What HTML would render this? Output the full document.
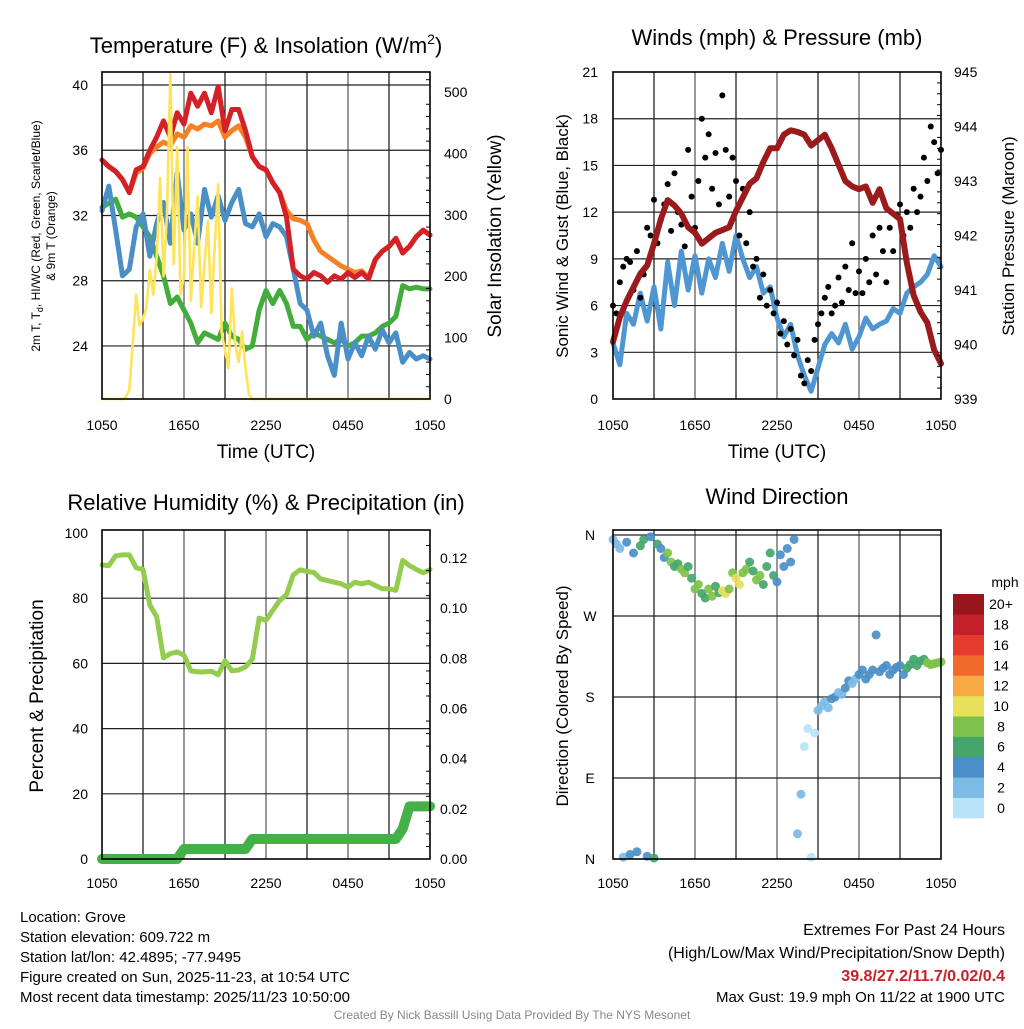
<!DOCTYPE html>
<html><head><meta charset="utf-8">
<style>
html,body{margin:0;padding:0;background:#fff;}
body{width:1024px;height:1024px;overflow:hidden;font-family:"Liberation Sans",sans-serif;}
svg text{font-family:"Liberation Sans",sans-serif;}
</style></head>
<body>
<svg id="fig" width="1024" height="1024" viewBox="0 0 1024 1024" xmlns="http://www.w3.org/2000/svg">
</svg>
<script>
// ---------- data (half-hourly, 1050 UTC -> 1050 UTC) ----------
const xTickLabels = ["1050","1650","2250","0450","1050"];
const tempRed = [35.4,35.0,34.7,34.2,33.4,34.8,35.0,36.0,36.8,37.8,36.8,38.3,37.6,39.5,38.7,39.5,38.3,39.9,37.2,38.5,38.5,37.2,35.6,35.0,34.8,34.0,33.4,31.9,28.7,28.3,28.1,28.5,28.3,27.9,28.3,28.1,28.5,28.2,28.5,28.1,29.3,29.8,30.1,30.6,29.7,30.1,30.7,31.1,30.8];
const tempOrange = [35.4,35.0,34.7,34.2,33.4,34.6,34.9,35.8,36.2,36.5,36.3,37.0,36.8,37.5,37.3,37.6,37.5,37.8,36.8,37.2,37.5,36.8,35.6,35.0,34.8,34.0,33.4,32.3,31.8,31.7,31.5,30.5,29.8,29.5,29.2,28.9,28.7,28.5,28.6,28.2,29.3,29.8,30.1,30.6,29.7,30.1,30.7,31.1,30.8];
const tempBlue = [32.3,33.8,31.1,28.3,28.7,31.3,32.1,29.5,31.5,32.8,30.3,34.6,31.1,32.1,30.3,33.6,31.9,33.2,31.7,32.8,33.6,31.5,31.3,32.1,30.7,31.5,31.3,30.7,28.7,26.6,26.2,24.6,25.4,23.4,22.2,25.4,23.2,24.2,23.4,24.6,23.8,25.0,24.2,24.8,23.0,23.6,23.2,23.4,23.2];
const tempGreen = [32.5,32.75,33.0,31.9,32.1,31.9,31.3,30.7,29.5,28.3,26.6,27.0,26.2,25.4,24.2,24.8,24.6,24.4,25.4,24.6,24.4,23.8,24.0,26.2,27.4,26.6,27.4,26.6,25.2,25.2,24.4,24.8,24.6,24.4,24.2,24.4,24.0,24.2,24.6,24.6,24.8,25.2,25.4,25.8,27.7,27.5,27.6,27.5,27.5];
// solar insolation, 15-minute
const solar = [0,0,0,0,0,0,0,3,15,90,170,120,130,150,210,170,230,360,200,300,530,220,410,170,200,410,160,250,330,150,220,290,140,250,350,110,80,50,180,90,60,110,50,8,0,0,0,0,0,0,0,0,0,0,0,0,0,0,0,0,0,0,0,0,0,0,0,0,0,0,0,0,0,0,0,0,0,0,0,0,0,0,0,0,0,0,0,0,0,0,0,0,0,0,0,0,0];
const windSpeed = [3.6,2.2,5.5,4.8,6.8,5.0,7.2,4.5,8.8,6.0,9.5,7.0,9.2,6.8,9.0,7.8,10.0,8.2,10.5,9.0,7.8,8.5,6.8,7.2,5.2,4.0,4.8,2.8,1.5,0.5,2.0,3.5,4.2,3.6,4.8,3.2,4.0,5.2,4.5,4.8,5.0,5.8,5.5,6.8,7.2,7.5,8.0,9.2,8.5];
// gusts, 15-minute
const windGust = [6.0,5.5,7.5,8.5,9.0,8.8,7.0,9.5,6.5,8.0,11.0,10.5,12.8,10.0,11.5,12.5,13.8,10.8,14.5,12.0,11.2,9.8,16.0,13.0,11.0,14.0,18.0,15.5,17.0,13.5,15.8,12.5,19.5,16.0,13.0,15.5,14.0,10.5,13.5,10.0,12.0,8.5,9.0,6.5,8.0,6.0,7.0,5.5,6.2,4.2,5.0,3.5,4.5,2.8,3.8,1.5,1.0,2.5,1.8,3.8,4.8,5.5,6.5,7.2,5.5,6.0,7.8,6.2,8.5,7.0,10.0,6.8,8.2,6.8,9.0,7.5,10.5,8.0,11.0,9.5,7.5,11.0,9.5,11.8,12.5,10.5,12.0,11.0,13.5,12.0,13.0,15.5,14.0,17.5,16.5,14.5,16.0];
const pressure = [940.05,940.5,940.8,941.05,941.3,941.45,941.85,942.3,942.65,942.55,942.4,942.15,942.05,941.85,941.95,942.05,942.1,942.15,942.45,942.7,942.95,943.05,943.35,943.6,943.6,943.85,943.93,943.9,943.85,943.65,943.75,943.85,943.6,943.3,943.0,942.9,942.85,942.9,942.6,942.85,942.5,942.4,942.3,941.5,940.9,940.6,940.4,939.9,939.65];
const relHum = [90.2,90,93,93.3,93.3,89.3,88.8,77.9,74.3,61.7,63,63.5,62.5,57.7,57.4,57.4,57.6,56.5,60.8,57.7,58,58.9,61.3,73.9,73.2,76.3,79.3,81.1,87.2,88.7,88.2,87.9,85.9,85.4,84.9,84.4,83.4,84.9,84.4,84.9,83.9,82.9,82.9,82.4,91.6,90,88.8,87.8,88.8];
const precip = [0,0,0,0,0,0,0,0,0,0,0,0,0.004,0.004,0.004,0.004,0.004,0.004,0.004,0.004,0.004,0.004,0.008,0.008,0.008,0.008,0.008,0.008,0.008,0.008,0.008,0.008,0.008,0.008,0.008,0.008,0.008,0.008,0.008,0.008,0.008,0.008,0.008,0.008,0.012,0.021,0.021,0.021,0.021];
// wind direction, 15-minute (degrees); null = missing
const windDir = [355,350,345,2,352,5,340,8,348,355,3,358,1,350,345,335,340,330,325,328,322,318,325,312,300,305,295,290,300,292,303,296,298,295,300,318,312,305,318,322,330,320,310,315,305,325,340,315,308,338,325,345,330,355,28,72,125,145,2,140,165,170,175,168,178,180,185,183,190,198,195,200,205,210,200,205,210,249,208,212,215,205,210,213,215,205,212,216,222,215,220,222,218,216,217,218,219];
const cbLabels = ["0","2","4","6","8","10","12","14","16","18","20+"];
const cbColors = ["#b9e3f9","#7cbbe6","#4a8fc7","#45a56b","#7dc24a","#e8e05a","#f7a944","#f06a2c","#e33b2d","#c2202b","#98171d"];

// ---------- helpers ----------
const NS="http://www.w3.org/2000/svg";
const svg=document.getElementById('fig');
function mk(tag, attrs, parent){const e=document.createElementNS(NS,tag);for(const k in attrs)e.setAttribute(k,attrs[k]);(parent||svg).appendChild(e);return e;}
function txt(s,x,y,size,anchor,parent,extra){const e=mk('text',Object.assign({x:x,y:y,'font-size':size,'text-anchor':anchor||'middle',fill:'#000'},extra||{}),parent);e.textContent=s;return e;}
const P1={x:102,y:72,w:328,h:327}, P2={x:613,y:72,w:328,h:327}, P3={x:102,y:530,w:328,h:329}, P4={x:613,y:530,w:328,h:329};
function xh(P,h){return P.x+h*P.w/24;}
const y1L=t=>85+(40-t)*16.31, y1R=w=>399-w*0.614;
const y2L=m=>399-m*15.57, y2R=p=>399-(p-939)*54.5;
const y3L=r=>859-r*3.26, y3R=p=>859-p*2508;
const y4=d=>859-d*0.9;

function grid(P,yvals,name){
  const g=mk('g',{});
  
  
  for(let h=3;h<24;h+=3){mk('line',{x1:xh(P,h),x2:xh(P,h),y1:P.y,y2:P.y+P.h,stroke:(h%6==0)?'#555':'#111','stroke-width':1.2},g);}
  yvals.forEach(y=>mk('line',{x1:P.x,x2:P.x+P.w,y1:y,y2:y,stroke:'#222','stroke-width':1.2},g));
}
function frame(P,name){const r=mk('rect',{x:P.x,y:P.y,width:P.w,height:P.h,fill:'none',stroke:'#000','stroke-width':1.6});}
function line(P,vals,step,yf,color,width,name){
  let d='';vals.forEach((v,i)=>{if(v==null)return;d+=(d?'L':'M')+xh(P,i*step).toFixed(2)+','+yf(v).toFixed(2);});
  const p=mk('path',{d:d,fill:'none',stroke:color,'stroke-width':width,'stroke-linejoin':'round','stroke-linecap':'round'});
  
  
  return p;
}
function xlabels(P,y,name){
  const g=mk('g',{});
  
  
  xTickLabels.forEach((s,i)=>txt(s,xh(P,i*6),y,14,'middle',g));
}
function rightTicks(P,vals,yf){vals.forEach(v=>mk('line',{x1:P.x+P.w-4,x2:P.x+P.w,y1:yf(v),y2:yf(v),stroke:'#000','stroke-width':1}));}

// ---------- Panel 1 ----------
grid(P1,[24,28,32,36,40].map(y1L),'temperature');
line(P1,tempGreen,0.5,y1L,'#43ad3c',5,'dewpoint-line-green');
line(P1,tempBlue,0.5,y1L,'#4a8fc8',5,'heat-index-windchill-line-blue');
line(P1,tempOrange,0.5,y1L,'#f58026',5,'temperature-9m-line-orange');
line(P1,tempRed,0.5,y1L,'#d42027',5,'temperature-2m-line-red');
line(P1,solar,0.25,y1R,'#fde45a',2.6,'solar-insolation-line-yellow');
frame(P1,'temperature');
rightTicks(P1,[20,40,60,80,120,140,160,180,220,240,260,280,320,340,360,380,420,440,460,480,520],y1R);
{const g=mk('g',{});
[24,28,32,36,40].forEach(v=>txt(String(v),88,y1L(v)+5,14,'end',g));}
{const g=mk('g',{});
[0,100,200,300,400,500].forEach(v=>txt(String(v),444,y1R(v)+5,14,'start',g));}
xlabels(P1,430,'temperature');
txt('Time (UTC)',266,458,19,'middle');
{const t=txt('',266,53,22,'middle');t.innerHTML='Temperature (F) &amp; Insolation (W/m<tspan font-size="14" dy="-9">2</tspan><tspan dy="9">)</tspan>';}
{const t=mk('text',{transform:'translate(40,236) rotate(-90)','font-size':12,'text-anchor':'middle'});t.innerHTML='2m T, T<tspan font-size="9" dy="3">d</tspan><tspan dy="-3">, HI/WC (Red, Green, Scarlet/Blue)</tspan>';
const t2=mk('text',{transform:'translate(55,236) rotate(-90)','font-size':12,'text-anchor':'middle'});t2.textContent='& 9m T (Orange)';}
{const t=mk('text',{transform:'translate(501,236) rotate(-90)','font-size':19,'text-anchor':'middle'});t.textContent='Solar Insolation (Yellow)';}

// ---------- Panel 2 ----------
grid(P2,[3,6,9,12,15,18].map(y2L),'winds');
line(P2,windSpeed,0.5,y2L,'#4f97d2',5,'sonic-wind-line-blue');
{const g=mk('g',{});
windGust.forEach((v,i)=>{const c=mk('circle',{cx:xh(P2,i*0.25),cy:y2L(v),r:3,fill:'#000'},g);

});}
line(P2,pressure,0.5,y2R,'#9b1a1c',6,'station-pressure-line-maroon');
frame(P2,'winds');
rightTicks(P2,[939.2,939.4,939.6,939.8,940.2,940.4,940.6,940.8,941.2,941.4,941.6,941.8,942.2,942.4,942.6,942.8,943.2,943.4,943.6,943.8,944.2,944.4,944.6,944.8],y2R);
{const g=mk('g',{});
[0,3,6,9,12,15,18,21].forEach(v=>txt(String(v),598,y2L(v)+5,14,'end',g));}
{const g=mk('g',{});
[939,940,941,942,943,944,945].forEach(v=>txt(String(v),954,y2R(v)+5,14,'start',g));}
xlabels(P2,430,'winds');
txt('Time (UTC)',777,458,19,'middle');
txt('Winds (mph) & Pressure (mb)',777,45,22,'middle');
{const t=mk('text',{transform:'translate(568,236) rotate(-90)','font-size':17,'text-anchor':'middle'});t.textContent='Sonic Wind & Gust (Blue, Black)';}
{const t=mk('text',{transform:'translate(1014,236) rotate(-90)','font-size':17,'text-anchor':'middle'});t.textContent='Station Pressure (Maroon)';}

// ---------- Panel 3 ----------
grid(P3,[20,40,60,80].map(y3L),'humidity');
line(P3,relHum,0.5,y3L,'#93cc4e',5,'relative-humidity-line');
line(P3,precip,0.5,y3R,'#44b048',10,'precipitation-line');
frame(P3,'humidity');
rightTicks(P3,[0.005,0.01,0.015,0.025,0.03,0.035,0.045,0.05,0.055,0.065,0.07,0.075,0.085,0.09,0.095,0.105,0.11,0.115,0.125],y3R);
{const g=mk('g',{});
[0,20,40,60,80,100].forEach(v=>txt(String(v),88,y3L(v)+5,14,'end',g));}
{const g=mk('g',{});
[0,0.02,0.04,0.06,0.08,0.10,0.12].forEach(v=>txt(v.toFixed(2),440,y3R(v)+5,14,'start',g));}
xlabels(P3,888,'humidity');
txt('Relative Humidity (%) & Precipitation (in)',266,510,22,'middle');
{const t=mk('text',{transform:'translate(43,696) rotate(-90)','font-size':19,'text-anchor':'middle'});t.textContent='Percent & Precipitation';}

// ---------- Panel 4 ----------
grid(P4,[90,180,270,360].map(y4),'direction');
{const g=mk('g',{});
windDir.forEach((d,i)=>{if(d==null)return;const s=windSpeed[Math.min(48,Math.floor(i/2))];const b=Math.min(10,Math.floor(s/2));
const c=mk('circle',{cx:xh(P4,i*0.25),cy:y4(d),r:4.5,fill:cbColors[b],'fill-opacity':0.92},g);

});}
frame(P4,'direction');
{const g=mk('g',{});
[["N",360],["W",270],["S",180],["E",90],["N",0]].forEach(a=>txt(a[0],590,y4(a[1])+5,14,'middle',g));}
xlabels(P4,888,'direction');
txt('Wind Direction',777,504,22,'middle');
{const t=mk('text',{transform:'translate(568,696) rotate(-90)','font-size':17,'text-anchor':'middle'});t.textContent='Direction (Colored By Speed)';}
{const g=mk('g',{});
txt('mph',1005,587,14,'middle',g);
const bh=224/cbColors.length;
cbColors.forEach((c,i)=>{const k=cbColors.length-1-i;
const r=mk('rect',{x:953,y:594+k*bh,width:31,height:bh+0.3,fill:c},g);


txt(cbLabels[i],1001,594+k*bh+bh/2+5,14,'middle',g);});}

// ---------- footer text ----------
{const g=mk('g',{});
["Location: Grove","Station elevation: 609.722 m","Station lat/lon: 42.4895; -77.9495","Figure created on Sun, 2025-11-23, at 10:54 UTC","Most recent data timestamp: 2025/11/23 10:50:00"].forEach((s,i)=>txt(s,20,922+i*20,15,'start',g));}
{const g=mk('g',{});
txt('Extremes For Past 24 Hours',1005,935,16,'end',g);
txt('(High/Low/Max Wind/Precipitation/Snow Depth)',1005,958,16,'end',g);
txt('39.8/27.2/11.7/0.02/0.4',1005,981,16,'end',g,{fill:'#c8202a','font-weight':'bold'});
txt('Max Gust: 19.9 mph On 11/22 at 1900 UTC',1005,1002,15,'end',g);}
txt('Created By Nick Bassill Using Data Provided By The NYS Mesonet',512,1019,12,'middle',null,{fill:'#888'});
</script>
</body></html>
